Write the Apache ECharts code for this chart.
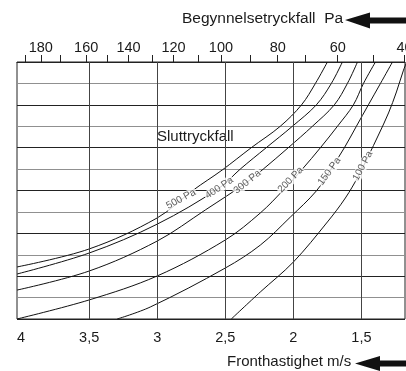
<!DOCTYPE html>
<html>
<head>
<meta charset="utf-8">
<script src="https://cdn.jsdelivr.net/npm/echarts@6/dist/echarts.min.js"></script>
<style>
  html, body { margin: 0; padding: 0; background: #fff; }
  #chart { width: 406px; height: 371px; }
</style>
</head>
<body>
<div id="chart"></div>
<script>
const font = "'Liberation Sans', Arial, sans-serif";

// bottom axis: front velocity m/s
const speedMin = 1.18;
const speedMax = 4.03;
const speedLabels = [4, 3.5, 3, 2.5, 2, 1.5];

// top axis: initial pressure drop (Pa) and where each tick sits on the speed scale
const startPa = [190, 180, 170, 160, 150, 140, 130, 120, 110, 100, 90, 80, 70, 60, 50, 40];
const startPaSpeed = [3.97, 3.855, 3.713, 3.522, 3.37, 3.211, 3.039, 2.88, 2.696, 2.532, 2.316, 2.115, 1.912, 1.674, 1.414, 1.184];
const startPaLabels = [180, 160, 140, 120, 100, 80, 60, 40];

// final pressure drop curves, [speed, row]
const curve500 = [[4.03, 2.43], [3.5, 3.27], [3.0, 4.72], [2.735, 6.02], [2.522, 6.96], [2.309, 8], [2.096, 9], [1.94, 10], [1.838, 11], [1.75, 12]];
const curve400 = [[4.03, 2.1], [3.5, 3.08], [3.0, 4.43], [2.544, 6.12], [2.39, 7], [2.199, 8], [2.007, 9], [1.831, 10], [1.721, 11], [1.64, 12]];
const curve300 = [[4.03, 1.35], [3.5, 2.24], [3.0, 3.64], [2.647, 5.09], [2.338, 6.4], [2.221, 7], [2.037, 8], [1.86, 9], [1.699, 10], [1.603, 11], [1.529, 12]];
const curve200 = [[4.03, 0], [3.5, 0.89], [3.0, 2.01], [2.5, 3.69], [2.243, 4.95], [2.074, 6.02], [1.934, 7], [1.801, 8], [1.676, 9], [1.559, 10], [1.485, 11], [1.397, 12]];
const curve150 = [[3.294, 0], [3.051, 0.56], [2.5, 2.38], [2.243, 3.45], [2.022, 4.76], [1.831, 5.98], [1.728, 6.96], [1.625, 8], [1.537, 9], [1.449, 10], [1.36, 11], [1.272, 12]];
const curve100 = [[2.456, 0], [2.243, 1.26], [2.0, 2.66], [1.75, 4.53], [1.618, 5.65], [1.522, 6.68], [1.449, 7.61], [1.375, 8.59], [1.301, 9.62], [1.243, 10.6], [1.191, 11.62], [1.16, 12.1]];

const curveNames = ["500 Pa", "400 Pa", "300 Pa", "200 Pa", "150 Pa", "100 Pa"];
const curveLabelAt = [[2.825, 5.6], [2.544, 6.12], [2.338, 6.4], [2.02, 6.5], [1.735, 6.9], [1.49, 7.15]];
const labelAngles = [28, 34, 39, 46, 54, 62];

const chart = echarts.init(document.getElementById("chart"));

const curves = [curve500, curve400, curve300, curve200, curve150, curve100];

function paForSpeed(v) {
  let best = 0;
  startPaSpeed.forEach((s, i) => {
    if (Math.abs(s - v) < Math.abs(startPaSpeed[best] - v)) best = i;
  });
  return String(startPa[best]);
}

// vertical grid lines at the speed labels (the 4 line is the plot border)
const speedLines = {
  silent: true, symbol: "none", label: { show: false },
  lineStyle: { color: "#444", width: 1, type: "solid" },
  data: speedLabels.filter(v => v !== 4).map(v => ({ xAxis: v }))
};

chart.setOption({
  animation: false,
  grid: {
    left: 17, right: 1, top: 62, bottom: 52, containLabel: false, outerBoundsMode: "none",
    show: true, borderColor: "#222", borderWidth: 1
  },
  xAxis: [
    {
      type: "value", position: "bottom", inverse: true, min: speedMin, max: speedMax,
      axisLine: { show: false },
      axisTick: { show: false },
      axisLabel: {
        customValues: speedLabels, margin: 11, fontSize: 14.5, color: "#1a1a1a", fontFamily: font,
        formatter: v => String(v).replace(".", ",")
      },
      splitLine: { show: false }
    },
    {
      type: "value", position: "top", inverse: true, min: speedMin, max: speedMax,
      axisLine: { show: true, lineStyle: { color: "#222" } },
      axisTick: { show: true, customValues: startPaSpeed, length: 7, lineStyle: { color: "#222" } },
      axisLabel: {
        customValues: startPaLabels.map(p => startPaSpeed[startPa.indexOf(p)]),
        margin: 7, fontSize: 14.5, color: "#1a1a1a", fontFamily: font,
        formatter: paForSpeed
      },
      splitLine: { show: false }
    }
  ],
  yAxis: {
    type: "value", min: 0, max: 12, interval: 1,
    axisLine: { show: false }, axisTick: { show: false }, axisLabel: { show: false },
    splitLine: { show: true, lineStyle: { color: ["#222", "#909090"], width: 1 } }
  },
  graphic: [
    { type: "text", left: 182, top: 11, style: { text: "Begynnelsetryckfall  Pa", font: "15.5px " + font, fill: "#1a1a1a" } },
    { type: "polygon", shape: { points: [[345, 20], [370, 12.5], [370, 17.5], [406, 17.5], [406, 23.5], [370, 23.5], [370, 28.5]] }, style: { fill: "#111" } },
    { type: "text", left: 157, top: 129, style: { text: "Sluttryckfall", font: "15px " + font, fill: "#1a1a1a" } },
    { type: "text", left: 227, top: 354, style: { text: "Fronthastighet m/s", font: "15px " + font, fill: "#1a1a1a" } },
    { type: "polygon", shape: { points: [[355, 363.5], [380, 356], [380, 360.5], [406, 360.5], [406, 366.5], [380, 366.5], [380, 371]] }, style: { fill: "#111" } }
  ],
  series: [
    ...curves.map((data, i) => ({
      type: "line", name: curveNames[i], data, smooth: 0.35, showSymbol: false, silent: true, z: 3,
      lineStyle: { color: "#111", width: 1 },
      markLine: i === 0 ? speedLines : undefined
    })),
    {
      type: "scatter", symbolSize: 1, silent: true, z: 6,
      itemStyle: { color: "rgba(0,0,0,0)" },
      data: curveNames.map((name, i) => ({ name, value: curveLabelAt[i], label: { rotate: labelAngles[i] } })),
      label: {
        show: true, position: "inside", formatter: p => p.name,
        fontSize: 10, color: "#333", fontFamily: font, backgroundColor: "#fff", padding: [0, 1]
      }
    }
  ]
});
</script>
</body>
</html>
